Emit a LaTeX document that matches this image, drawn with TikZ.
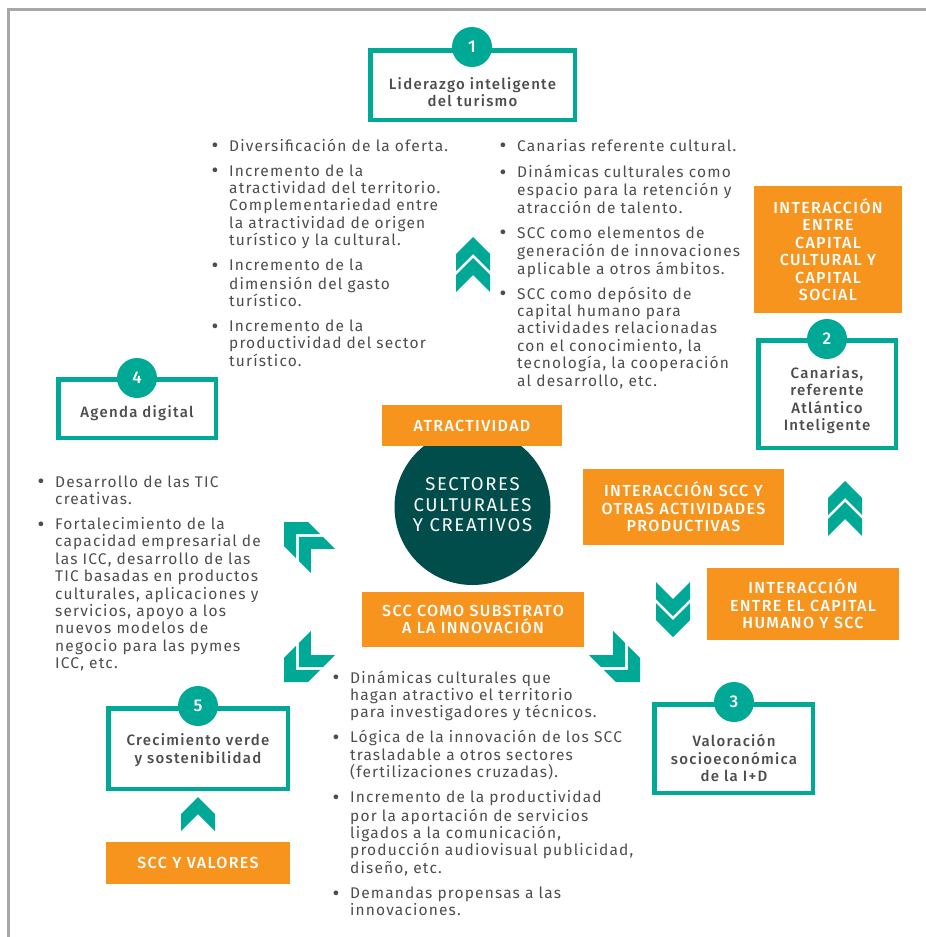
\documentclass[tikz,border=0pt]{standalone}
\usepackage{fontspec}
\setmainfont{Fira Sans}[BoldFont={Fira Sans Medium}]
\definecolor{teal1}{HTML}{00A896}
\definecolor{orng}{HTML}{F7941D}
\definecolor{dteal}{HTML}{004D4B}
\definecolor{txt}{HTML}{4D4D4D}
\definecolor{frm}{HTML}{A8A8A8}
\newcommand\bi[1]{\par\hangindent=18pt\hangafter=1\noindent\makebox[18pt][l]{\hspace{0.5pt}\raisebox{-1.8pt}{\fontsize{21}{0}\selectfont\textbullet}}\strut#1\par}
\tikzset{
  tealbox/.style={draw=teal1, line width=4.5pt, fill=white, rectangle, inner sep=0pt},
  numcirc/.style={circle, fill=teal1, minimum size=40pt, inner sep=0pt, text=white, font=\bfseries\fontsize{17}{17}\selectfont},
  boxtext/.style={text=txt, align=center, inner sep=0pt, font=\bfseries\fontsize{15}{17.5}\selectfont\addfontfeature{LetterSpace=8.5}},
  obox/.style={fill=orng, text=white, align=center, inner sep=0pt, font=\bfseries\fontsize{16}{17.5}\selectfont\addfontfeature{LetterSpace=8.5}},
  listnode/.style={anchor=north west, inner sep=0pt, text width=340pt, text=txt, font=\fontsize{15.5}{17.4}\selectfont\addfontfeature{LetterSpace=7.5}},
  dchev/.pic={
    \fill[teal1] (0,0)--(17,17)--(17,34)--(0,17)--(-17,34)--(-17,17)--cycle;
    \fill[teal1] (0,21)--(17,38)--(17,55)--(0,38)--(-17,55)--(-17,38)--cycle;},
  schev/.pic={
    \fill[teal1] (0,0)--(17,17)--(17,34)--(0,17)--(-17,34)--(-17,17)--cycle;}
}
\begin{document}
\begin{tikzpicture}[x={(1pt,0)}, y={(0,-1pt)}]
\useasboundingbox (0,0) rectangle (926,937);
% frame
\draw[frm, line width=3pt] (8,937) -- (8,9) -- (926,9);

% central circle
\node[circle, fill=dteal, minimum size=156pt, inner sep=0pt] (core) at (472.5,507) {};
\node[text=white, align=center, inner sep=0pt, font=\fontsize{18.5}{20.5}\selectfont\addfontfeature{LetterSpace=9}] (coretext) at (472.5,505) {SECTORES\\CULTURALES\\Y CREATIVOS};

% teal boxes
\node[tealbox, minimum width=204.5pt, minimum height=69.5pt] (b1) at (472.5,85) {};
\node[numcirc] (n1) at (472,47) {1};
\node[boxtext] (t1) at (472.5,92) {Liderazgo inteligente\\del turismo};

\node[tealbox, minimum width=137.5pt, minimum height=107.5pt] (b2) at (827,394) {};
\node[numcirc] (n2) at (827,339) {2};
\node[boxtext] (t2) at (827,400) {Canarias,\\referente\\Atlántico\\Inteligente};

\node[tealbox, minimum width=158.5pt, minimum height=88.5pt] (b3) at (733.5,748.5) {};
\node[numcirc] (n3) at (734,702) {3};
\node[boxtext] (t3) at (734,758) {Valoración\\socioeconómica\\de la I+D};

\node[tealbox, minimum width=157.5pt, minimum height=58.5pt] (b4) at (137,408.5) {};
\node[numcirc] (n4) at (137,378) {4};
\node[boxtext] (t4) at (137,413) {Agenda digital};

\node[tealbox, minimum width=179.5pt, minimum height=80.5pt] (b5) at (198,748.5) {};
\node[numcirc] (n5) at (198,706) {5};
\node[boxtext] (t5) at (198,750) {Crecimiento verde\\y sostenibilidad};

% orange boxes
\node[obox, minimum width=148pt, minimum height=127pt] (o1) at (828,249.5) {INTERACCIÓN\\ENTRE\\CAPITAL\\CULTURAL Y\\CAPITAL\\SOCIAL};
\node[obox, minimum width=180pt, minimum height=41pt] (o2) at (472,425.5) {ATRACTIVIDAD};
\node[obox, minimum width=201pt, minimum height=76pt] (o3) at (683.5,507) {INTERACCIÓN SCC Y\\OTRAS ACTIVIDADES\\PRODUCTIVAS};
\node[obox, minimum width=192pt, minimum height=72pt] (o4) at (803,604) {INTERACCIÓN\\ENTRE EL CAPITAL\\HUMANO Y SCC};
\node[obox, minimum width=222pt, minimum height=55pt] (o5) at (473,619.5) {SCC COMO SUBSTRATO\\A LA INNOVACIÓN};
\node[obox, minimum width=184pt, minimum height=42pt] (o6) at (198,863) {SCC Y VALORES};

% chevrons
\pic at (473,237) {dchev};
\pic at (845,481) {dchev};
\pic[rotate=180] at (673,637) {dchev};
\pic at (198,797) {schev};
\pic[rotate=45] at (284,522) {dchev};
\pic[rotate=135] at (284,682) {dchev};
\pic[rotate=-135] at (640,682) {dchev};

% lists
\node[listnode] (l1) at (211,126) {\setlength\parskip{7.5pt}%
\bi{Diversificación de la oferta.}
\bi{Incremento de la\newline atractividad del territorio.\newline Complementariedad entre\newline la atractividad de origen\newline turístico y la cultural.}
\bi{Incremento de la\newline dimensión del gasto\newline turístico.}
\bi{Incremento de la\newline productividad del sector\newline turístico.}};

\node[listnode] (l2) at (499,126) {\setlength\parskip{7.5pt}%
\bi{Canarias referente cultural.}
\bi{Dinámicas culturales como\newline espacio para la retención y\newline atracción de talento.}
\bi{SCC como elementos de\newline generación de innovaciones\newline aplicable a otros ámbitos.}
\bi{SCC como depósito de\newline capital humano para\newline actividades relacionadas\newline con el conocimiento, la\newline tecnología, la cooperación\newline al desarrollo, etc.}};

\node[listnode] (l3) at (37,462) {\setlength\parskip{7.5pt}%
\bi{Desarrollo de las TIC\newline creativas.}
\bi{Fortalecimiento de la\newline capacidad empresarial de\newline las ICC, desarrollo de las\newline TIC basadas en productos\newline culturales, aplicaciones y\newline servicios, apoyo a los\newline nuevos modelos de\newline negocio para las pymes\newline ICC, etc.}};

\node[listnode] (l4) at (332,658) {\setlength\parskip{7.5pt}%
\bi{Dinámicas culturales que\newline hagan atractivo el territorio\newline para investigadores y técnicos.}
\bi{Lógica de la innovación de los SCC\newline trasladable a otros sectores\newline (fertilizaciones cruzadas).}
\bi{Incremento de la productividad\newline por la aportación de servicios\newline ligados a la comunicación,\newline producción audiovisual publicidad,\newline diseño, etc.}
\bi{Demandas propensas a las\newline innovaciones.}};
\end{tikzpicture}
\end{document}
